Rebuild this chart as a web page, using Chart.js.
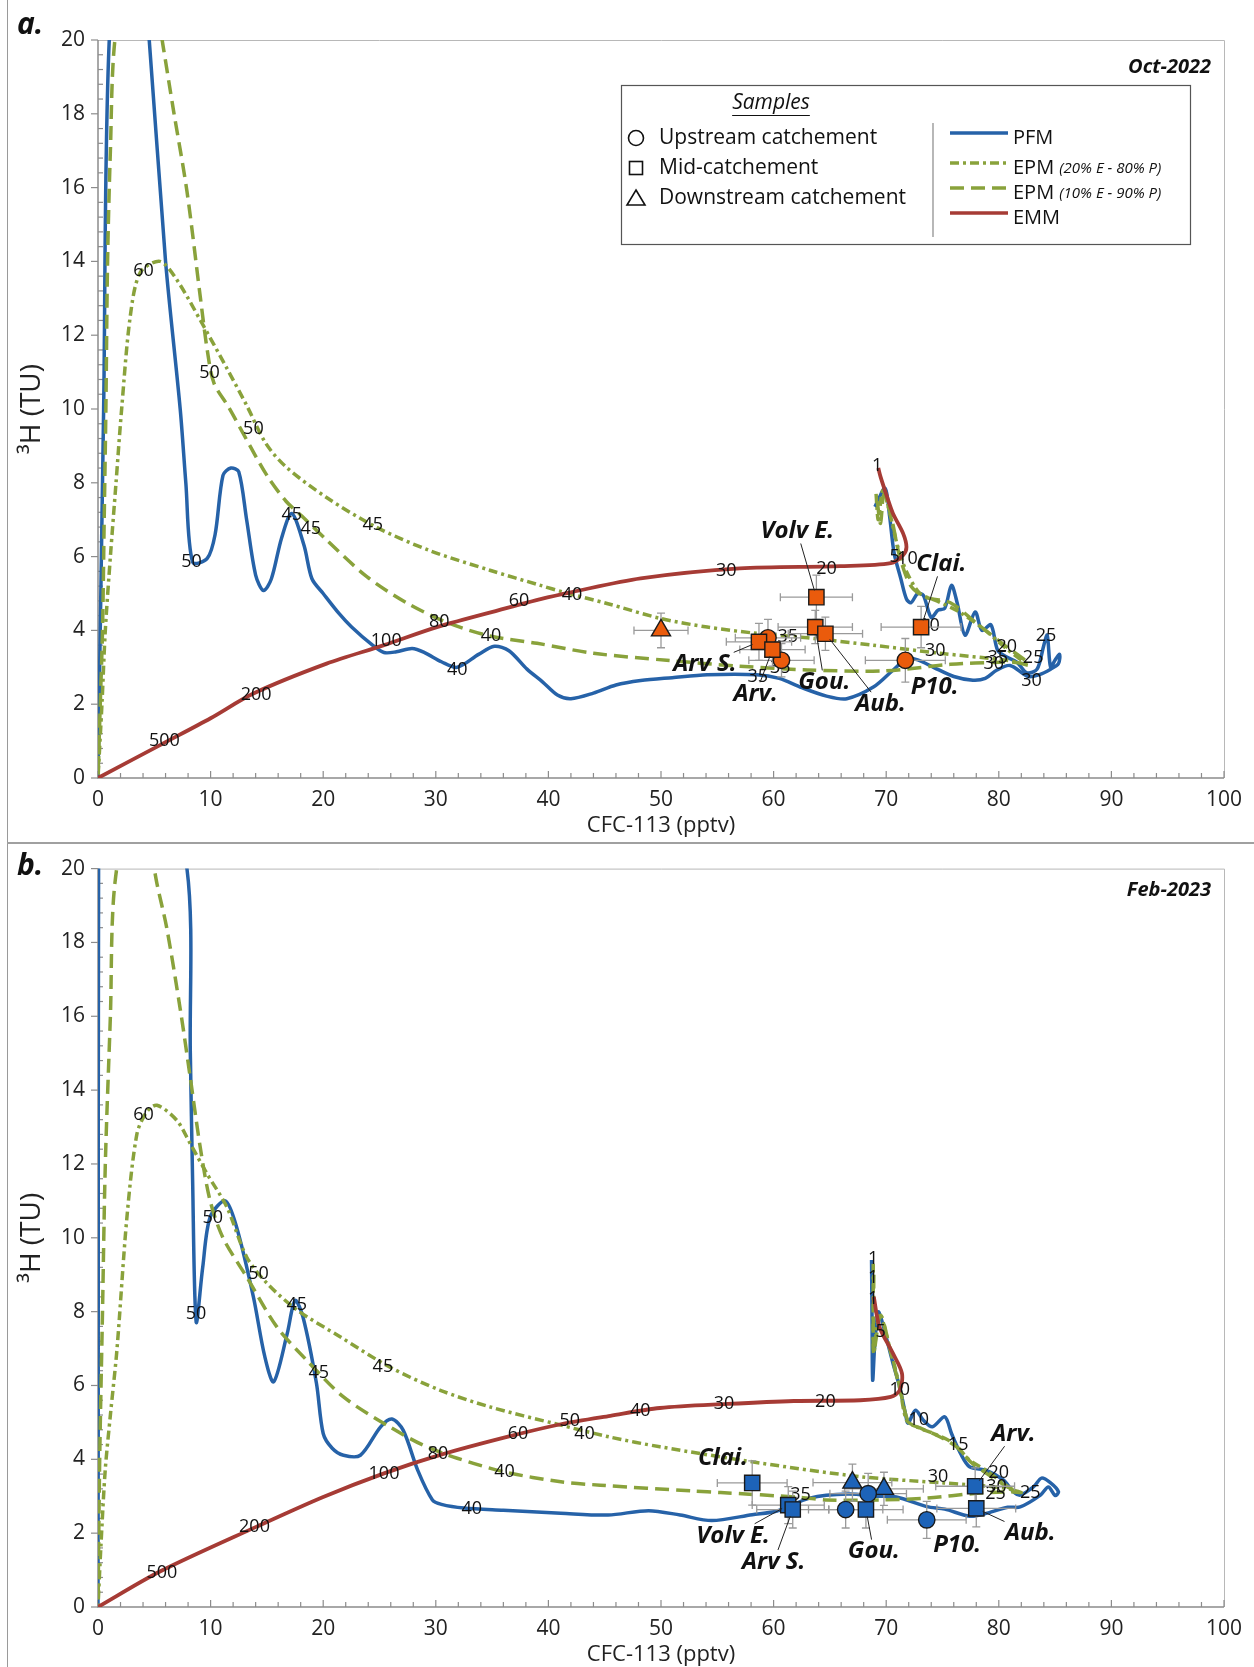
<!DOCTYPE html>
<html><head><meta charset="utf-8">
<script src="https://cdn.jsdelivr.net/npm/chart.js@4.4.1/dist/chart.umd.min.js"></script>
<style>
html,body{margin:0;padding:0;background:#fff;}
#wrap{position:relative;width:1254px;height:1667px;overflow:hidden;background:#fff;}
.panel{position:absolute;left:0;width:1254px;}
#pa{top:0;height:843px;} #pb{top:843px;height:824px;}
#frameL{position:absolute;left:7px;top:0;width:1px;height:1667px;background:#9a9a9a;}
#sep{position:absolute;left:7px;top:842px;width:1247px;height:2px;background:#a0a0a0;}
</style></head><body>
<div id="wrap">
<div class="panel" id="pa"><canvas id="ca" width="1254" height="843"></canvas></div>
<div class="panel" id="pb"><canvas id="cb" width="1254" height="824"></canvas></div>
<div id="frameL"></div><div id="sep"></div>
</div>
<script>
// ---------------- DATA : panel a (Oct-2022) ----------------
const A_PFM = [[69.0,7.35],[69.9,7.85],[70.3,7.1],[70.7,6.1],[71.3,5.4],[71.8,4.85],[72.2,4.75],[72.8,5.0],[73.3,4.95],[74.0,4.35],[74.6,4.55],[75.2,4.6],[75.8,5.22],[76.3,4.75],[77.0,3.87],[77.9,4.5],[78.5,4.0],[79.3,4.15],[79.9,3.46],[80.7,3.28],[81.6,3.14],[82.5,2.85],[83.4,2.95],[84.0,3.6],[84.3,3.87],[84.6,3.0],[85.0,3.2],[85.4,3.35],[85.3,3.1],[84.6,2.95],[83.6,2.8],[82.6,2.75],[81.0,3.05],[79.8,2.92],[78.8,2.7],[77.7,2.65],[76.0,2.75],[74.2,3.0],[72.8,3.2],[71.8,3.22],[70.6,2.92],[68.9,2.47],[66.5,2.15],[64.7,2.22],[62.5,2.45],[60.5,2.7],[58.5,2.8],[54.1,2.8],[51.0,2.72],[48.2,2.64],[46.0,2.52],[44.0,2.3],[42.0,2.15],[40.8,2.25],[39.5,2.6],[38.1,2.95],[36.5,3.45],[35.2,3.57],[33.8,3.35],[31.9,3.0],[30.5,3.15],[29.0,3.4],[27.9,3.51],[26.5,3.42],[25.4,3.4],[24.3,3.62],[22.5,4.1],[21.4,4.46],[20.0,5.0],[19.0,5.4],[18.3,6.3],[17.2,7.17],[16.3,6.5],[15.4,5.4],[14.7,5.08],[14.0,5.5],[13.2,7.0],[12.5,8.3],[11.8,8.4],[11.1,8.2],[10.4,6.6],[9.7,5.95],[8.4,5.85],[7.8,8.0],[7.3,10.0],[6.0,14.0],[4.55,20.0],[2.8,26.0],[1.0,20.0],[0.5,10.0],[0.15,3.0],[0,0]];
const A_EPM20 = [[69.1,7.7],[69.3,7.0],[69.7,7.8],[70.3,7.2],[71.0,6.3],[71.8,5.6],[73.0,5.0],[74.5,4.8],[76.5,4.5],[78.6,4.05],[80.7,3.5],[82.2,3.15],[82.7,3.05],[81.8,3.12],[80.7,3.19],[74.8,3.38],[68.8,3.6],[63.0,3.8],[58.2,3.93],[54.1,4.09],[50.0,4.32],[45.2,4.73],[41.3,5.04],[39.3,5.22],[34.8,5.63],[29.4,6.17],[24.7,6.8],[20.3,7.6],[16.7,8.43],[14.9,9.07],[13.2,10.1],[11.45,11.1],[9.1,12.4],[7.0,13.5],[5.5,14.0],[3.75,13.7],[2.86,12.5],[2.1,10.0],[1.6,8.0],[1.1,6.0],[0.65,4.0],[0.35,2.0],[0,0]];
const A_EPM10 = [[69.2,7.5],[69.5,6.9],[69.8,7.7],[70.5,7.0],[71.2,6.0],[72.2,5.2],[73.5,4.9],[75.7,4.75],[78.0,4.2],[80.5,3.6],[82.3,3.2],[82.6,3.1],[81.5,3.13],[80.1,3.14],[75.7,3.08],[69.7,2.9],[63.0,2.93],[57.0,3.03],[50.5,3.19],[44.0,3.38],[39.0,3.65],[34.8,3.85],[31.2,4.19],[27.5,4.73],[23.9,5.45],[20.3,6.45],[18.1,7.1],[16.7,7.5],[15.0,8.2],[13.5,9.0],[11.6,10.05],[10.3,10.7],[9.7,11.6],[9.1,13.0],[7.9,15.9],[6.7,18.1],[5.8,19.8],[3.5,24.0],[1.5,20.0],[1.1,17.0],[0.85,14.0],[0.7,10.0],[0.55,7.0],[0.4,4.0],[0.2,2.0],[0,0]];
const A_EMM = [[69.3,8.4],[69.5,8.16],[70.1,7.6],[70.6,7.17],[71.5,6.63],[71.8,6.26],[71.5,6.04],[70.4,5.82],[65.9,5.74],[57.0,5.68],[48.2,5.41],[42.1,5.04],[39.3,4.85],[36.6,4.63],[30.1,4.09],[25.4,3.6],[20.3,3.1],[13.8,2.29],[10.0,1.62],[5.8,0.94],[0,0]];
const A_NAMES = ["","Arv S.","","Arv.","","Volv E.","Gou.","Aub.","Clai.","P10."];
const A_TYPE  = ["down","mid","up","mid","up","mid","mid","mid","mid","up"];
const A_CFC   = [50.0,58.7,59.5,59.9,60.7,63.8,63.7,64.6,73.1,71.7];
const A_H3    = [4.0,3.69,3.8,3.48,3.19,4.9,4.09,3.91,4.09,3.19];
const A_CFC_ERR = [2.4,2.9,2.9,2.9,2.9,3.2,3.3,3.3,3.55,3.55];
const A_H3_ERR  = [0.47,0.5,0.5,0.45,0.45,0.6,0.45,0.45,0.56,0.59];
const A_LBL_X = [null,53.9,null,58.4,null,62.1,64.5,69.5,74.9,74.3];
const A_LBL_Y = [null,3.08,null,2.27,null,6.68,2.59,2.0,5.79,2.47];
const A_LEADER = [false,true,false,true,false,true,true,true,true,false];
const A_AGES = [["60",4.05,13.73],["50",9.9,10.97],["50",13.8,9.47],["50",8.3,5.87],["45",17.2,7.14],["45",18.9,6.76],["45",24.4,6.85],["100",25.6,3.71],["80",30.3,4.23],["60",37.4,4.81],["40",42.1,4.95],["40",34.9,3.85],["40",31.9,2.93],["200",14.05,2.24],["500",5.9,1.0],["30",55.8,5.61],["20",64.7,5.67],["1",69.2,8.45],["5",70.75,5.98],["10",71.9,5.95],["10",73.85,4.12],["35",61.25,3.82],["35",58.6,2.73],["35",60.6,2.99],["30",74.35,3.45],["20",80.7,3.54],["35",79.9,3.25],["30",79.55,3.1],["25",83.05,3.25],["30",82.9,2.62],["25",84.2,3.85]];

// ---------------- DATA : panel b (Feb-2023) ----------------
const B_PFM = [[68.7,9.4],[68.75,7.5],[68.8,6.14],[69.0,7.2],[69.3,7.99],[69.6,7.77],[70.6,6.6],[71.2,5.96],[71.7,5.25],[71.95,4.98],[72.6,5.33],[73.3,5.06],[74.1,4.88],[75.2,5.15],[75.8,4.7],[76.6,4.16],[77.4,3.8],[78.9,3.7],[80.4,3.44],[81.3,3.12],[81.9,3.03],[83.1,3.26],[83.8,3.49],[84.6,3.36],[85.3,3.12],[85.0,3.02],[84.4,3.25],[83.7,3.03],[81.9,2.71],[80.8,2.7],[78.7,2.52],[77.4,2.46],[75.2,2.65],[73.6,2.72],[70.9,2.98],[69.2,3.0],[66.6,3.06],[63.2,2.95],[60.3,2.6],[58.1,2.5],[54.5,2.34],[51.7,2.49],[48.9,2.61],[45.3,2.49],[41.1,2.54],[36.0,2.62],[32.5,2.68],[30.5,2.78],[29.7,2.9],[28.4,3.7],[27.1,4.79],[26.1,5.09],[25.1,4.88],[23.3,4.11],[21.8,4.11],[20.8,4.3],[20.0,4.7],[19.4,6.06],[18.2,7.86],[17.5,8.3],[16.8,7.4],[15.6,6.1],[14.8,6.8],[13.8,8.4],[12.3,10.3],[11.3,11.0],[9.96,10.56],[9.3,9.2],[8.72,7.72],[8.4,11.6],[8.2,15.0],[7.9,20.0],[4.0,25.0],[0.05,20.0],[0.02,5.0],[0,0]];
const B_EPM20 = [[68.85,9.3],[68.85,8.0],[68.9,6.87],[69.4,7.95],[70.3,7.04],[71.2,5.96],[71.8,5.06],[72.7,4.88],[74.2,4.7],[76.0,4.43],[77.4,3.98],[78.9,3.7],[80.4,3.35],[81.3,3.17],[81.9,3.1],[81.2,3.18],[79.5,3.26],[75.1,3.36],[67.7,3.53],[58.8,3.9],[49.9,4.34],[45.5,4.6],[40.8,4.95],[34.8,5.42],[30.4,5.87],[25.9,6.5],[21.5,7.32],[17.7,8.04],[15.0,8.77],[13.2,9.48],[11.45,10.83],[9.67,11.74],[8.19,12.55],[7.0,13.18],[5.23,13.59],[4.3,13.4],[3.45,12.8],[2.57,10.56],[1.68,6.96],[1.1,5.2],[0.64,3.7],[0.25,1.6],[0,0]];
const B_EPM10 = [[68.9,9.0],[68.9,6.9],[69.5,7.9],[70.4,6.9],[71.3,5.8],[72.0,5.0],[73.0,4.85],[74.5,4.65],[76.2,4.35],[77.6,3.9],[79.0,3.6],[80.5,3.3],[81.5,3.15],[82.0,3.1],[81.0,3.12],[78.05,3.08],[73.6,2.95],[69.5,2.9],[64.7,2.9],[62.4,2.97],[55.3,3.1],[52.9,3.14],[44.6,3.3],[41.1,3.39],[36.1,3.66],[31.9,4.03],[28.9,4.38],[25.9,4.88],[21.8,5.69],[18.55,6.68],[15.9,7.58],[13.2,8.94],[11.1,10.0],[9.96,11.0],[9.08,12.45],[8.19,14.35],[7.3,16.2],[6.1,18.4],[5.23,19.6],[3.4,22.5],[1.5,19.6],[1.1,16.0],[0.65,12.0],[0.4,8.0],[0.15,4.0],[0,0]];
const B_EMM = [[68.9,8.4],[69.4,7.59],[70.6,6.87],[71.4,6.33],[71.2,5.87],[70.4,5.69],[67.7,5.6],[61.8,5.58],[55.9,5.5],[49.9,5.39],[45.5,5.18],[41.1,4.95],[36.5,4.62],[30.4,4.12],[25.4,3.62],[20.0,2.98],[14.05,2.17],[5.5,0.96],[0,0]];
const B_NAMES = ["Clai.","Volv E.","Arv S.","","","","","Gou.","P10.","Arv.","Aub."];
const B_TYPE  = ["mid","mid","mid","down","up","down","up","mid","up","mid","mid"];
const B_CFC   = [58.1,61.3,61.7,67.0,68.4,69.8,66.4,68.2,73.6,77.9,78.0];
const B_H3    = [3.36,2.76,2.64,3.37,3.07,3.2,2.64,2.64,2.36,3.27,2.67];
const B_CFC_ERR = [3.1,3.2,3.2,3.5,3.4,3.5,3.3,3.3,3.5,3.5,3.5];
const B_H3_ERR  = [0.6,0.5,0.5,0.5,0.55,0.45,0.5,0.5,0.5,0.5,0.5];
const B_LBL_X = [55.5,56.4,60.0,null,null,null,null,68.9,76.3,81.3,82.8];
const B_LBL_Y = [4.03,1.93,1.22,null,null,null,null,1.5,1.68,4.68,1.99];
const B_LEADER = [false,true,true,false,false,false,false,true,false,true,true];
const B_AGES = [["60",4.04,13.32],["50",10.2,10.55],["50",8.7,7.95],["50",14.25,9.01],["45",17.65,8.17],["45",19.6,6.34],["45",25.3,6.5],["80",30.2,4.16],["60",37.3,4.68],["100",25.4,3.6],["40",36.1,3.66],["40",33.2,2.67],["200",13.9,2.17],["500",5.67,0.93],["50",41.9,5.04],["40",43.2,4.7],["40",48.15,5.31],["30",55.6,5.49],["20",64.6,5.56],["1",68.85,9.44],["1",68.85,8.92],["1",68.85,8.35],["5",69.5,7.45],["10",71.2,5.87],["10",72.9,5.08],["15",76.4,4.38],["20",80.0,3.62],["30",74.6,3.53],["30",79.8,3.26],["25",79.7,3.06],["25",82.8,3.08],["35",62.4,3.03]];

const X_TICK_STEP = 10, Y_TICK_STEP = 2;

// ---------------- STYLE ----------------
const FONT = "'Open Sans','Noto Sans','DejaVu Sans',sans-serif";
const C_BLUE = '#2662a8', C_GREEN = '#89a23b', C_RED = '#a63b35';
const C_ORANGE = '#ea5b0c', C_MBLUE = '#1d63b8';
const DASHDOT = [9,4,3,4], DASHED = [14,7];

function pts(a){ return a.map(p => ({x:p[0], y:p[1]})); }

function drawLegend(ctx){
  ctx.save();
  ctx.fillStyle = '#fff'; ctx.fillRect(621,85,570,160);
  ctx.strokeStyle = '#555'; ctx.lineWidth = 1.2; ctx.strokeRect(621.5,85.5,569,159);
  ctx.fillStyle = '#111'; ctx.textBaseline = 'middle';
  ctx.font = `italic 21px ${FONT}`; ctx.textAlign = 'center';
  ctx.fillText('Samples', 771, 103);
  const w = ctx.measureText('Samples').width;
  ctx.strokeStyle = '#111'; ctx.lineWidth = 1;
  ctx.beginPath(); ctx.moveTo(771 - w/2, 115.5); ctx.lineTo(771 + w/2, 115.5); ctx.stroke();
  ctx.lineWidth = 1.6;
  ctx.beginPath(); ctx.arc(636,138,7.5,0,Math.PI*2); ctx.stroke();
  ctx.strokeRect(629.5,161.5,13,13);
  ctx.beginPath(); ctx.moveTo(636,190); ctx.lineTo(645,205); ctx.lineTo(627,205); ctx.closePath(); ctx.stroke();
  ctx.textAlign = 'left'; ctx.font = `21px ${FONT}`;
  ctx.fillText('Upstream catchement', 659, 138);
  ctx.fillText('Mid-catchement', 659, 168);
  ctx.fillText('Downstream catchement', 659, 198);
  ctx.strokeStyle = '#888'; ctx.lineWidth = 1.2;
  ctx.beginPath(); ctx.moveTo(933,123); ctx.lineTo(933,237); ctx.stroke();
  const rows = [[133,C_BLUE,[],'PFM',''],[163,C_GREEN,DASHDOT,'EPM ','(20% E - 80% P)'],[188,C_GREEN,DASHED,'EPM ','(10% E - 90% P)'],[213,C_RED,[],'EMM','']];
  rows.forEach(r => {
    ctx.strokeStyle = r[1]; ctx.lineWidth = 3.5; ctx.setLineDash(r[2]);
    ctx.beginPath(); ctx.moveTo(950,r[0]); ctx.lineTo(1008,r[0]); ctx.stroke();
    ctx.setLineDash([]);
    ctx.fillStyle = '#111'; ctx.font = `20px ${FONT}`;
    ctx.fillText(r[3], 1013, r[0]+5);
    if (r[4]) { const w3 = ctx.measureText(r[3]).width; ctx.font = `italic 15px ${FONT}`; ctx.fillText(r[4], 1013 + w3, r[0]+6); }
  });
  ctx.restore();
}

function makePanel(canvasId, P){
  const canvas = document.getElementById(canvasId);
  const H = canvas.height;
  const lineDs = [
    {label:'PFM', data:pts(P.pfm), borderColor:C_BLUE, borderWidth:3.5, order:5},
    {label:'EPM (20% E - 80% P)', data:pts(P.epm20), borderColor:C_GREEN, borderWidth:3.5, borderDash:DASHDOT, order:4},
    {label:'EPM (10% E - 90% P)', data:pts(P.epm10), borderColor:C_GREEN, borderWidth:3.5, borderDash:DASHED, order:3},
    {label:'EMM', data:pts(P.emm), borderColor:C_RED, borderWidth:3.8, order:2}
  ].map(d => Object.assign({showLine:true, pointRadius:0, pointHoverRadius:0, tension:0.3, fill:false, backgroundColor:'transparent'}, d));
  const styles = {mid:['rect',10.8], up:['circle',8.2], down:['triangle',11]};
  const markerDs = ['mid','up','down'].map(t => ({
    label:t, isMarker:true, order:1, showLine:false,
    data: P.cfc.map((v,i) => P.type[i] === t ? {x:v, y:P.h3[i]} : null).filter(Boolean),
    pointStyle:styles[t][0], pointRadius:styles[t][1], pointHoverRadius:styles[t][1],
    backgroundColor:P.fill, borderColor:'#1a1a1a', borderWidth:1.4
  }));

  const deco = {
    id:'deco',
    beforeDatasetsDraw(chart){
      chart.$done = false;
      const {ctx, chartArea:a, scales:{x, y}} = chart;
      ctx.save();
      ctx.strokeStyle = '#b8b8b8'; ctx.lineWidth = 1;
      ctx.beginPath(); ctx.moveTo(a.left, a.top+0.5); ctx.lineTo(a.right+0.5, a.top+0.5); ctx.lineTo(a.right+0.5, a.bottom); ctx.stroke();
      ctx.strokeStyle = '#8c8c8c'; ctx.lineWidth = 1.5;
      ctx.beginPath(); ctx.moveTo(a.left, a.top); ctx.lineTo(a.left, a.bottom); ctx.lineTo(a.right, a.bottom); ctx.stroke();
      ctx.lineWidth = 1.2;
      for (let i = 0; i <= 50; i++) {
        const px = x.getPixelForValue(i*2);
        const major = i % 5 === 0;
        ctx.beginPath(); ctx.moveTo(px, a.bottom); ctx.lineTo(px, a.bottom - (major ? 7 : 5)); ctx.stroke();
      }
      for (let i = 0; i <= 50; i++) {
        const py = y.getPixelForValue(i*0.4);
        ctx.beginPath();
        if (i % 5 === 0) { ctx.moveTo(a.left-7, py); ctx.lineTo(a.left, py); }
        else { ctx.moveTo(a.left, py); ctx.lineTo(a.left+5, py); }
        ctx.stroke();
      }
      ctx.restore();
    },
    beforeDatasetDraw(chart, args){
      const ds = chart.data.datasets[args.index];
      if (!ds.isMarker || chart.$done) return;
      chart.$done = true;
      const {ctx, scales:{x, y}} = chart;
      ctx.save();
      ctx.fillStyle = '#111'; ctx.font = `18px ${FONT}`; ctx.textAlign = 'center'; ctx.textBaseline = 'middle';
      P.ages.forEach(a => ctx.fillText(a[0], x.getPixelForValue(a[1]), y.getPixelForValue(a[2])));
      ctx.strokeStyle = '#9a9a9a'; ctx.lineWidth = 1.3;
      P.cfc.forEach((v,i) => {
        const cx = x.getPixelForValue(v), cy = y.getPixelForValue(P.h3[i]);
        const x1 = x.getPixelForValue(v - P.cfcErr[i]), x2 = x.getPixelForValue(v + P.cfcErr[i]);
        const y1 = y.getPixelForValue(P.h3[i] - P.h3Err[i]), y2 = y.getPixelForValue(P.h3[i] + P.h3Err[i]);
        ctx.beginPath();
        ctx.moveTo(x1, cy); ctx.lineTo(x2, cy);
        ctx.moveTo(x1, cy-4); ctx.lineTo(x1, cy+4); ctx.moveTo(x2, cy-4); ctx.lineTo(x2, cy+4);
        ctx.moveTo(cx, y1); ctx.lineTo(cx, y2);
        ctx.moveTo(cx-4, y1); ctx.lineTo(cx+4, y1); ctx.moveTo(cx-4, y2); ctx.lineTo(cx+4, y2);
        ctx.stroke();
      });
      ctx.restore();
    },
    afterDatasetsDraw(chart){
      const {ctx, chartArea:a, scales:{x, y}} = chart;
      ctx.save();
      ctx.font = `italic bold 24px ${FONT}`; ctx.textAlign = 'center'; ctx.textBaseline = 'middle'; ctx.fillStyle = '#111';
      P.names.forEach((n,i) => {
        if (!n) return;
        const lx = x.getPixelForValue(P.lblX[i]), ly = y.getPixelForValue(P.lblY[i]);
        ctx.fillText(n, lx, ly);
        if (P.leader[i]) {
          const w = ctx.measureText(n).width/2 + 2, h = 12;
          const mx = x.getPixelForValue(P.cfc[i]), my = y.getPixelForValue(P.h3[i]);
          const dx = mx - lx, dy = my - ly;
          const t = Math.min(dx ? w/Math.abs(dx) : 9, dy ? h/Math.abs(dy) : 9);
          const len = Math.hypot(dx, dy);
          const e = Math.max(0, 1 - 7/len);
          ctx.strokeStyle = '#222'; ctx.lineWidth = 1;
          ctx.beginPath(); ctx.moveTo(lx + dx*t, ly + dy*t); ctx.lineTo(lx + dx*e, ly + dy*e); ctx.stroke();
        }
      });
      ctx.fillStyle = '#222';
      ctx.font = `22px ${FONT}`; ctx.textAlign = 'center'; ctx.textBaseline = 'middle';
      ctx.fillText('CFC-113 (pptv)', (a.left + a.right)/2, a.bottom + 48);
      ctx.save(); ctx.translate(32, (a.top + a.bottom)/2); ctx.rotate(-Math.PI/2);
      ctx.font = `28px ${FONT}`; ctx.fillText('³H (TU)', 0, 0); ctx.restore();
      ctx.fillStyle = '#111'; ctx.textBaseline = 'alphabetic'; ctx.textAlign = 'left';
      ctx.font = `italic bold 30px ${FONT}`; ctx.fillText(P.letter, 17, P.letterBase);
      ctx.textAlign = 'right'; ctx.font = `italic bold 20px ${FONT}`;
      ctx.fillText(P.date, 1211, P.dateBase);
      ctx.restore();
      if (P.legend) drawLegend(ctx);
    }
  };

  return new Chart(canvas, {
    type:'scatter',
    data:{datasets:[...lineDs, ...markerDs]},
    options:{
      responsive:false, animation:false, events:[], devicePixelRatio:1,
      layout:{padding:{left:0, right:30, top:P.areaTop, bottom:0}},
      plugins:{legend:{display:false}, tooltip:{enabled:false}},
      scales:{
        x:{type:'linear', min:0, max:100, grid:{display:false, drawTicks:false}, border:{display:false},
           ticks:{stepSize:X_TICK_STEP, color:'#222', font:{family:FONT, size:21}, padding:9, maxRotation:0, autoSkip:false},
           afterFit(s){ s.height = H - P.areaBottom; }},
        y:{type:'linear', min:0, max:20, grid:{display:false, drawTicks:false}, border:{display:false},
           ticks:{stepSize:Y_TICK_STEP, color:'#222', font:{family:FONT, size:21}, padding:13, autoSkip:false},
           afterFit(s){ s.width = 98; }}
      }
    },
    plugins:[deco]
  });
}

makePanel('ca', {pfm:A_PFM, epm20:A_EPM20, epm10:A_EPM10, emm:A_EMM, names:A_NAMES, type:A_TYPE, cfc:A_CFC, h3:A_H3,
  cfcErr:A_CFC_ERR, h3Err:A_H3_ERR, lblX:A_LBL_X, lblY:A_LBL_Y, leader:A_LEADER, ages:A_AGES,
  fill:C_ORANGE, areaTop:40, areaBottom:778, letter:'a.', letterBase:34, date:'Oct-2022', dateBase:73, legend:true});
makePanel('cb', {pfm:B_PFM, epm20:B_EPM20, epm10:B_EPM10, emm:B_EMM, names:B_NAMES, type:B_TYPE, cfc:B_CFC, h3:B_H3,
  cfcErr:B_CFC_ERR, h3Err:B_H3_ERR, lblX:B_LBL_X, lblY:B_LBL_Y, leader:B_LEADER, ages:B_AGES,
  fill:C_MBLUE, areaTop:25, areaBottom:764, letter:'b.', letterBase:32, date:'Feb-2023', dateBase:53, legend:false});
</script>
</body></html>
